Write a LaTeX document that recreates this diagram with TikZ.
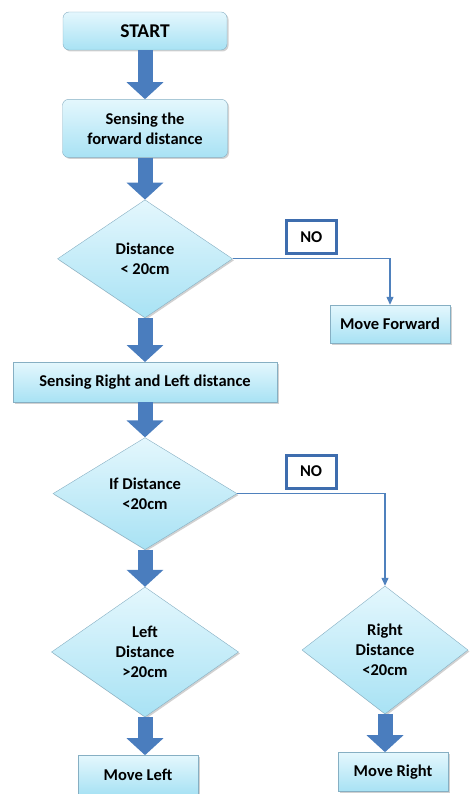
\documentclass[tikz,border=0pt]{standalone}
\usepackage{fontspec}
\setmainfont{Carlito}
\usetikzlibrary{shapes.geometric, arrows.meta, positioning, shadows}
\definecolor{boxtop}{HTML}{E4F7FD}
\definecolor{boxbot}{HTML}{A8E2F4}
\definecolor{boxline}{HTML}{86AFC3}
\definecolor{fatblue}{HTML}{4A7DBE}
\definecolor{lineblue}{HTML}{4F81BD}
\definecolor{noblue}{HTML}{3E6DAE}
\begin{document}
\begin{tikzpicture}[x=1pt, y=-1pt,
        font=\bfseries\fontsize{16.5}{20}\selectfont,
        shade/.style={draw=boxline, top color=boxtop, bottom color=boxbot,
            drop shadow={shadow xshift=1.5pt, shadow yshift=-1.5pt, opacity=0.3, fill=black!60}},
        box/.style={rectangle, shade, align=center, inner sep=0pt},
        rbox/.style={box, rounded corners=6pt},
        dec/.style={diamond, shade, align=center, inner sep=0pt},
        fat/.style={draw=fatblue, line width=15pt, -{Triangle[width=36pt, length=17pt]}},
        noline/.style={draw=lineblue, line width=1.2pt, -{Triangle[width=7pt, length=8pt]}},
        nolbl/.style={rectangle, draw=noblue, line width=3pt, fill=white,
            minimum width=50pt, minimum height=33pt, inner sep=0pt}]
        \useasboundingbox (0,0) rectangle (470,794);
        \node[rbox, minimum width=164pt, minimum height=38pt,
            font=\bfseries\fontsize{19.5}{22}\selectfont] (start) at (145,31) {START};
        \node[rbox, minimum width=165pt, minimum height=58pt, below=49pt of start] (sense) {Sensing the\\forward distance};
        \node[dec, minimum width=175pt, minimum height=118pt, below=42pt of sense] (dist) {Distance\\< 20cm};
        \node[box, minimum width=120pt, minimum height=38pt] (fwd) at (390,324) {Move Forward};
        \node[box, minimum width=264pt, minimum height=40pt, below=44pt of dist] (senserl) {Sensing Right and Left distance};
        \node[dec, minimum width=184pt, minimum height=112pt, below=35pt of senserl] (ifdist) {If Distance\\<20cm};
        \node[dec, minimum width=187pt, minimum height=130pt, below=37pt of ifdist] (left) {Left\\Distance\\>20cm};
        \node[dec, minimum width=166pt, minimum height=128pt] (right) at (385,650) {Right\\Distance\\<20cm};
        \node[box, minimum width=120pt, minimum height=39pt, below=38pt of left, xshift=-7pt] (mleft) {Move Left};
        \node[box, minimum width=110pt, minimum height=39pt, below=38pt of right, xshift=8pt] (mright) {Move Right};
        \draw[fat] (start) -- (sense);
        \draw[fat] (sense) -- (dist);
        \draw[fat] (dist) -- (senserl);
        \draw[fat] (senserl) -- (ifdist);
        \draw[fat] (ifdist) -- (left);
        \draw[fat] (left.south) -- (left.south |- mleft.north);
        \draw[fat] (right.south) -- (right.south |- mright.north);
        \draw[noline] (dist.east) -| node[nolbl, pos=0.25, above=4pt] (no1) {NO} (fwd.north);
        \draw[noline] (ifdist.east) -| node[nolbl, pos=0.25, above=4pt] (no2) {NO} (right.north);
\end{tikzpicture}
\end{document}
